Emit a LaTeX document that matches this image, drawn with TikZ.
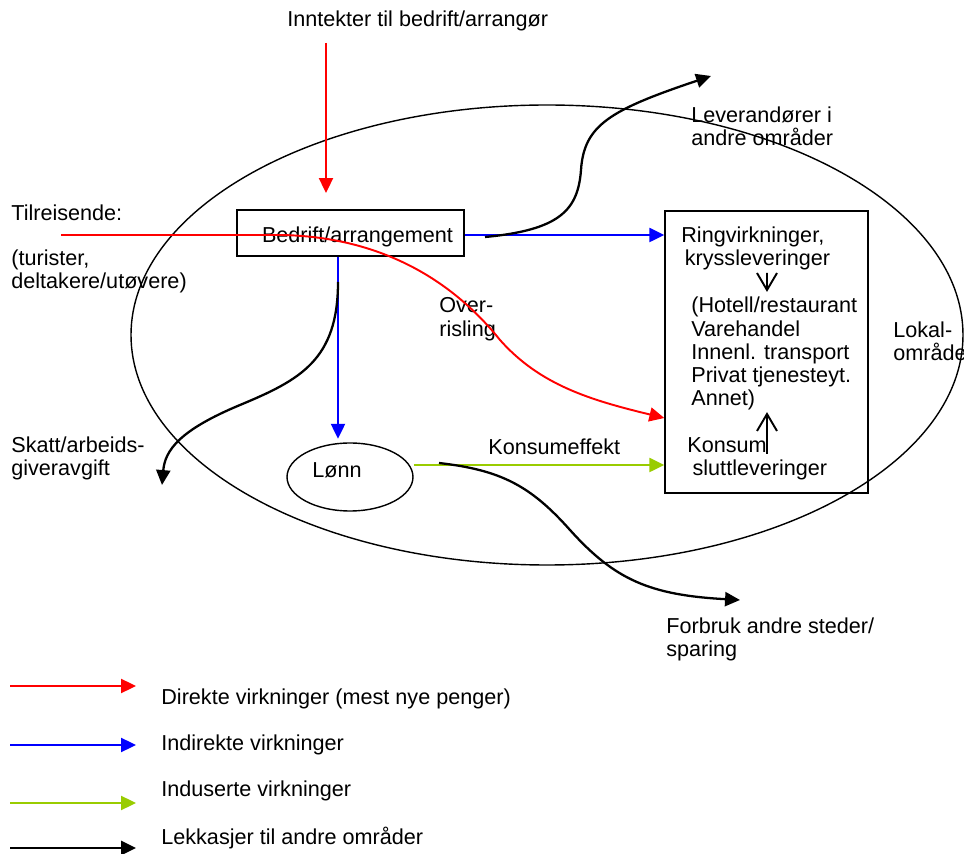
\documentclass[tikz,border=0pt]{standalone}
\usepackage{fontspec}
\setmainfont{Liberation Sans}
\usetikzlibrary{arrows.meta,shapes.geometric}
\definecolor{gronn}{RGB}{153,204,0}

\begin{document}
\begin{tikzpicture}[x=0.02cm,y=-0.02cm,
  tekst/.style={anchor=west,inner sep=0pt,align=left,yshift=-1.2pt,font=\fontsize{12.3}{13.2}\selectfont},
  boks/.style={draw,line width=0.8pt,inner sep=0pt,font=\fontsize{12.3}{13.2}\selectfont},
  pil/.style={line width=1.1pt,-{Triangle[length=8.5pt,width=8pt]}},
  direkte/.style={pil,red},
  indirekte/.style={pil,blue},
  indusert/.style={pil,gronn},
  lekkasje/.style={pil,black,line width=1.3pt},
  smalpil/.style={line width=1.1pt,line join=miter}]

\useasboundingbox (0,0) rectangle (964,854);

\draw[line width=0.8pt] (547,335) ellipse [x radius=416, y radius=230];

\node[boks,minimum width=4.54cm,minimum height=0.92cm,text height=11pt,text depth=0pt] (bedrift) at (350.5,233) {\hspace*{8pt}Bedrift/arrangement};
\node[boks,minimum width=4.06cm,minimum height=5.64cm] (ring) at (766.5,352) {};
\node[boks,ellipse,minimum width=2.52cm,minimum height=1.36cm] (lonn) at (350,477) {};

\node[tekst] (inntekt) at (287,19) {Inntekter til bedrift/arrangør};
\node[tekst] (tilreis) at (11,211) {Tilreisende:};
\node[tekst] (turist) at (11,269.5) {(turister,\\deltakere/utøvere)};
\node[tekst] (lev) at (691,124) {Leverandører i\\andre områder};
\node[tekst] (ringtekst) at (681,246.5) {Ringvirkninger,\\\hspace*{2pt}kryssleveringer};
\node[tekst] (hotell) at (691,351.5) {(Hotell/restaurant\\Varehandel\\Innenl. transport\\Privat tjenesteyt.\\Annet)};
\node[tekst] (konsum) at (687,456.5) {Konsum\\\hspace*{3pt}sluttleveringer};
\node[tekst] (over) at (439,317) {Over-\\risling};
\node[tekst] (lokal) at (893,339.5) {Lokal-\\område};
\node[tekst] (skatt) at (11,456.5) {Skatt/arbeids-\\giveravgift};
\node[tekst,anchor=center] (lonntekst) at (337,468) {Lønn};
\node[tekst] (konsumeffekt) at (488,445) {Konsumeffekt};
\node[tekst] (forbruk) at (666,637) {Forbruk andre steder/\\sparing};

\node[tekst] (direktetekst) at (161,697) {Direkte virkninger (mest nye penger)};
\node[tekst] (indirektetekst) at (161,743) {Indirekte virkninger};
\node[tekst] (indusertetekst) at (161,789) {Induserte virkninger};
\node[tekst] (lekkasjetekst) at (161,836) {Lekkasjer til andre områder};

\coordinate (inn) at (326,43);
\coordinate (innbunn) at (326,193);
\coordinate (tilreisstart) at (61,235);
\coordinate (levstart) at (485,237);
\coordinate (levtupp) at (711,76);
\coordinate (skattstart) at (338,282);
\coordinate (skatttupp) at (162,485);
\coordinate (forbrukstart) at (439,463);
\coordinate (forbruktupp) at (740,600);

\draw[direkte] (inn) -- (innbunn);
\draw[direkte] (tilreisstart) -- (280,235) .. controls (360,236) and (440,265) .. (500,340) .. controls (540,385) and (590,400) .. (ring.west |- 0,418);

\draw[indirekte] (bedrift.east |- 0,235) -- (ring.west |- 0,235);
\draw[indirekte,shorten >=2pt] (bedrift.south -| 338,0) -- (lonn.north -| 338,0);

\draw[indusert] (lonn.east |- 0,465) -- (ring.west |- 0,465);

\draw[lekkasje] (levstart) .. controls (560,230) and (578,210) .. (581,170) .. controls (584,125) and (610,110) .. (levtupp);
\draw[lekkasje] (skattstart) .. controls (338,360) and (300,380) .. (240,405) .. controls (180,430) and (165,450) .. (skatttupp);
\draw[lekkasje] (forbrukstart) .. controls (500,470) and (530,485) .. (570,530) .. controls (615,580) and (650,595) .. (forbruktupp);

\draw[smalpil] (767,273) -- (767,290) (757,273) -- (767,290) -- (777,273);
\draw[smalpil] (767,454) -- (767,414) (757,431) -- (767,414) -- (777,431);

\coordinate (r1) at (10,686);
\coordinate (r2) at (10,745);
\coordinate (r3) at (10,803);
\coordinate (r4) at (10,848);
\draw[direkte] (r1) -- ++(126,0);
\draw[indirekte] (r2) -- ++(126,0);
\draw[indusert] (r3) -- ++(126,0);
\draw[lekkasje] (r4) -- ++(126,0);

\end{tikzpicture}
\end{document}
